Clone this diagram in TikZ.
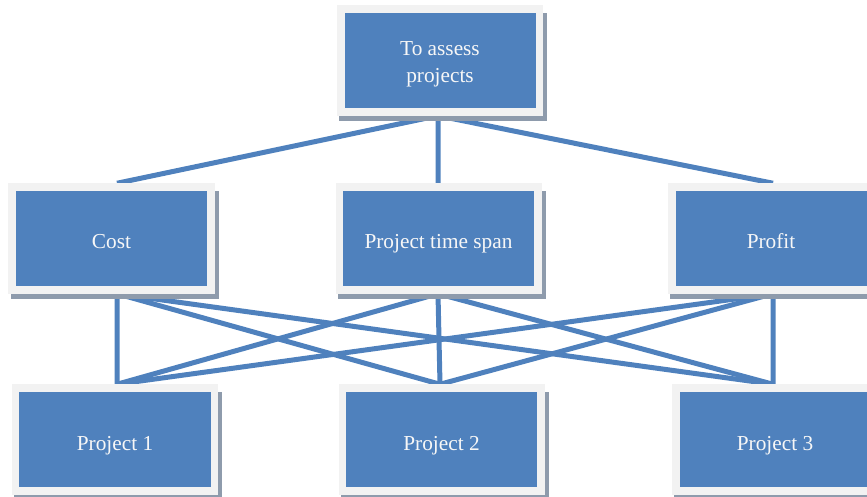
\documentclass[tikz,border=0pt]{standalone}
\usepackage{fontspec}
\setmainfont{Liberation Serif}
\usetikzlibrary{shadows,backgrounds}
\definecolor{boxblue}{HTML}{4F81BD}
\definecolor{boxframe}{HTML}{F2F2F2}
\definecolor{boxshadow}{RGB}{142,155,172}
\definecolor{boxtext}{HTML}{F7F7F7}
\tikzset{
  card/.style={rectangle, fill=boxblue, draw=boxframe, line width=7.5bp,
    minimum width=198.5bp, minimum height=103bp, inner sep=0pt,
    text=boxtext, align=center,
    font=\fontsize{21.3bp}{26.5bp}\selectfont,
    drop shadow={shadow xshift=3bp, shadow yshift=-6bp, shadow scale=1.048,
      fill=boxshadow, opacity=1}},
  oneline/.style={text height=21bp, text depth=0bp},
  link/.style={draw=boxblue, line width=5bp}
}
\begin{document}
\begin{tikzpicture}[x=1bp,y=-1bp]
\useasboundingbox (0,0) rectangle (867,497);
\node[card] (top)  at (440,60.5)  {\raisebox{-3bp}[\height][\depth]{\begin{tabular}{@{}c@{}}To assess\\projects\end{tabular}}};
\node[card,oneline] (cost) at (111.5,238.5) {Cost};
\node[card,oneline] (span) at (438.5,238.5) {Project time span};
\node[card,oneline] (prof) at (771,238.5) {Profit};
\node[card,oneline] (p1)   at (115,439.5) {Project 1};
\node[card,oneline] (p2)   at (441.5,439.5) {Project 2};
\node[card,oneline] (p3)   at (775,439.5) {Project 3};
\begin{scope}[on background layer]
\draw[link] ([xshift=-2bp]top.south) -- ([xshift=5.5bp]cost.north);
\draw[link] ([xshift=-2bp]top.south) -- ([xshift=-0.5bp]span.north);
\draw[link] ([xshift=-2bp]top.south) -- ([xshift=2bp]prof.north);
\foreach \m/\dm in {cost/5.5, span/-0.5, prof/2}{
  \foreach \b/\db in {p1/2, p2/-1.5, p3/-2}{
    \draw[link] ([xshift=\dm bp]\m.south) -- ([xshift=\db bp]\b.north);
  }
}
\end{scope}
\end{tikzpicture}
\end{document}
